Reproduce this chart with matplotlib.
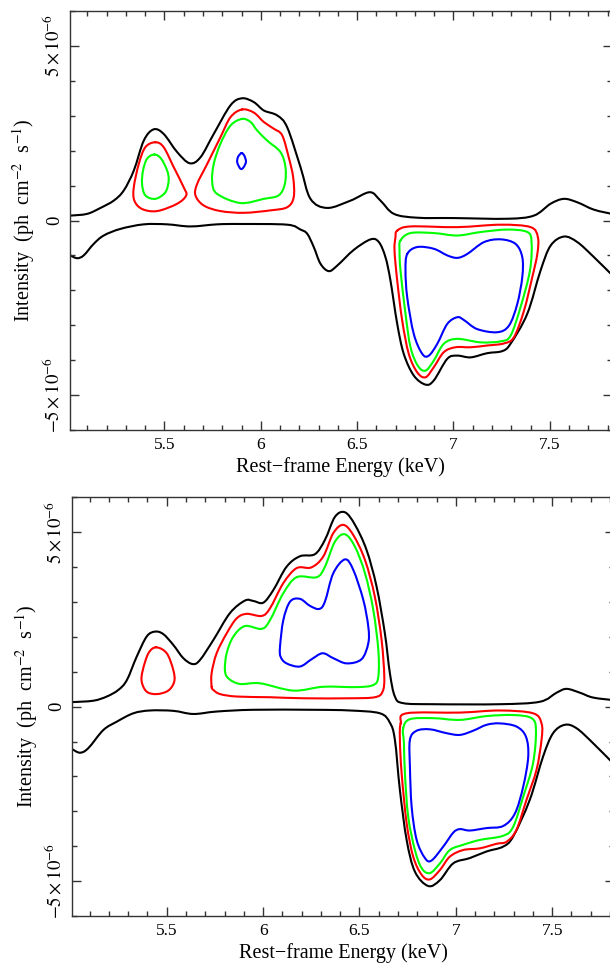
import numpy as np
import matplotlib
matplotlib.use("Agg")
import matplotlib.pyplot as plt
from matplotlib.path import Path
from matplotlib.patches import PathPatch
from matplotlib.ticker import MultipleLocator, FixedLocator, FixedFormatter

plt.rcParams['font.family'] = ['Liberation Serif', 'DejaVu Serif']
plt.rcParams['mathtext.fontset'] = 'stix'

# contour vertices: (energy keV, intensity in 1e-6 ph cm^-2 s^-1)
# ---- top panel ----
top_black_up = [(5.012, 0.14), (5.099, 0.19), (5.168, 0.36), (5.237, 0.57), (5.289, 0.86),
                (5.341, 1.43), (5.393, 2.29), (5.444, 2.61), (5.496, 2.48), (5.566, 1.96),
                (5.631, 1.64), (5.687, 1.81), (5.756, 2.48), (5.843, 3.30), (5.903, 3.50),
                (5.964, 3.39), (6.016, 3.15), (6.085, 3.01), (6.137, 2.67), (6.206, 1.53),
                (6.258, 0.62), (6.345, 0.36), (6.466, 0.57), (6.566, 0.81), (6.621, 0.57),
                (6.691, 0.19), (6.812, 0.08), (7.002, 0.07), (7.279, 0.05), (7.417, 0.14),
                (7.504, 0.48), (7.573, 0.62), (7.643, 0.52), (7.729, 0.31), (7.830, 0.18)]
top_black_lo = [(5.012, -1.00), (5.047, -1.08), (5.081, -1.00), (5.133, -0.67), (5.185, -0.43),
                (5.272, -0.24), (5.393, -0.11), (5.514, -0.11), (5.635, -0.17), (5.774, -0.11),
                (5.895, -0.10), (6.137, -0.12), (6.206, -0.26), (6.241, -0.38), (6.275, -0.76),
                (6.310, -1.24), (6.353, -1.45), (6.397, -1.29), (6.483, -0.84), (6.570, -0.54),
                (6.613, -0.62), (6.647, -1.05), (6.673, -1.72), (6.708, -2.96), (6.742, -3.82),
                (6.794, -4.44), (6.855, -4.70), (6.898, -4.58), (6.968, -3.96), (7.020, -3.87),
                (7.089, -3.92), (7.175, -3.80), (7.253, -3.74), (7.296, -3.53), (7.383, -2.67),
                (7.452, -1.43), (7.504, -0.72), (7.573, -0.46), (7.643, -0.62), (7.729, -1.05),
                (7.830, -1.60)]
top_red_a = [(5.453, 2.24), (5.401, 2.10), (5.367, 1.62), (5.341, 0.95), (5.344, 0.57),
             (5.384, 0.33), (5.462, 0.27), (5.566, 0.48), (5.613, 0.72), (5.600, 0.95),
             (5.548, 1.53), (5.496, 2.10)]
top_green_a = [(5.448, 1.89), (5.410, 1.77), (5.389, 1.43), (5.384, 1.05), (5.401, 0.72),
               (5.453, 0.62), (5.505, 0.81), (5.522, 1.15), (5.514, 1.43), (5.483, 1.77)]
top_red_b = [(5.903, 3.18), (5.843, 2.96), (5.791, 2.39), (5.722, 1.62), (5.670, 1.05),
             (5.661, 0.72), (5.704, 0.43), (5.791, 0.27), (5.912, 0.22), (6.050, 0.29),
             (6.137, 0.38), (6.171, 0.67), (6.168, 1.24), (6.145, 1.81), (6.111, 2.44),
             (6.067, 2.63), (6.016, 2.82), (5.964, 3.09)]
top_green_b = [(5.903, 2.91), (5.843, 2.72), (5.791, 2.20), (5.756, 1.62), (5.748, 1.10),
               (5.774, 0.76), (5.895, 0.50), (6.016, 0.62), (6.093, 0.72), (6.125, 1.05),
               (6.128, 1.53), (6.102, 1.96), (6.033, 2.29), (5.981, 2.58), (5.947, 2.82)]
top_blue_b = [(5.900, 1.93), (5.882, 1.82), (5.878, 1.66), (5.895, 1.48), (5.910, 1.52),
              (5.923, 1.68), (5.915, 1.85)]
top_red_c = [(6.708, -0.29), (6.777, -0.17), (7.020, -0.19), (7.245, -0.12), (7.400, -0.19),
             (7.438, -0.48), (7.435, -0.96), (7.409, -1.62), (7.366, -2.58), (7.314, -3.34),
             (7.262, -3.52), (7.175, -3.58), (7.089, -3.63), (7.011, -3.63), (6.950, -3.77),
             (6.898, -4.20), (6.855, -4.49), (6.812, -4.35), (6.768, -3.82), (6.734, -2.87),
             (6.708, -1.72), (6.694, -0.86), (6.699, -0.48)]
top_green_c = [(6.725, -0.57), (6.777, -0.36), (6.898, -0.36), (7.020, -0.43), (7.141, -0.33),
               (7.279, -0.26), (7.383, -0.33), (7.405, -0.62), (7.397, -1.43), (7.348, -2.48),
               (7.296, -3.30), (7.245, -3.46), (7.141, -3.49), (7.020, -3.39), (6.950, -3.53),
               (6.898, -4.01), (6.855, -4.30), (6.815, -4.16), (6.777, -3.63), (6.751, -2.67),
               (6.725, -1.43), (6.720, -0.86)]
top_blue_c = [(6.760, -0.96), (6.812, -0.76), (6.898, -0.81), (6.968, -1.00), (7.020, -1.07),
              (7.071, -0.96), (7.158, -0.62), (7.245, -0.54), (7.322, -0.67), (7.357, -1.05),
              (7.357, -1.62), (7.331, -2.39), (7.288, -3.01), (7.227, -3.20), (7.123, -3.11),
              (7.054, -2.85), (7.020, -2.77), (6.968, -2.96), (6.916, -3.53), (6.872, -3.87),
              (6.838, -3.82), (6.794, -3.25), (6.760, -2.20), (6.751, -1.43)]

# ---- bottom panel ----
bot_black_up = [(5.010, 0.13), (5.119, 0.17), (5.189, 0.29), (5.249, 0.48), (5.293, 0.76),
                (5.344, 1.43), (5.396, 2.01), (5.439, 2.15), (5.482, 2.08), (5.534, 1.77),
                (5.586, 1.39), (5.635, 1.22), (5.673, 1.34), (5.742, 1.91), (5.828, 2.68),
                (5.906, 3.04), (5.949, 3.03), (6.001, 2.98), (6.053, 3.34), (6.122, 4.01),
                (6.191, 4.31), (6.269, 4.37), (6.321, 4.78), (6.373, 5.44), (6.425, 5.57),
                (6.477, 5.21), (6.537, 4.49), (6.589, 3.44), (6.632, 2.10), (6.658, 0.96),
                (6.684, 0.29), (6.727, 0.10), (6.883, 0.07), (7.229, 0.07), (7.436, 0.14),
                (7.523, 0.40), (7.575, 0.51), (7.644, 0.40), (7.713, 0.26), (7.830, 0.18)]
bot_black_lo = [(5.010, -1.22), (5.050, -1.32), (5.093, -1.19), (5.171, -0.67), (5.241, -0.43),
                (5.327, -0.19), (5.413, -0.11), (5.534, -0.12), (5.638, -0.21), (5.759, -0.14),
                (5.949, -0.09), (6.260, -0.09), (6.451, -0.11), (6.606, -0.19), (6.658, -0.46),
                (6.684, -0.95), (6.710, -2.39), (6.745, -3.82), (6.788, -4.73), (6.857, -5.14),
                (6.918, -4.97), (6.987, -4.49), (7.073, -4.34), (7.160, -4.15), (7.246, -4.01),
                (7.298, -3.72), (7.384, -2.67), (7.453, -1.43), (7.505, -0.76), (7.566, -0.52),
                (7.627, -0.62), (7.713, -1.05), (7.830, -1.70)]
bot_red_a = [(5.445, 1.70), (5.405, 1.53), (5.376, 1.05), (5.370, 0.72), (5.396, 0.43),
             (5.448, 0.36), (5.508, 0.46), (5.539, 0.72), (5.534, 1.05), (5.500, 1.53)]
bot_red_b = [(5.733, 0.57), (5.733, 0.96), (5.759, 1.53), (5.811, 2.10), (5.863, 2.53),
             (5.915, 2.66), (5.993, 2.60), (6.036, 2.82), (6.105, 3.54), (6.174, 3.97),
             (6.250, 3.99), (6.312, 4.30), (6.364, 4.97), (6.416, 5.21), (6.468, 4.92),
             (6.529, 4.20), (6.580, 3.15), (6.615, 1.91), (6.629, 0.86), (6.620, 0.43),
             (6.580, 0.27), (6.451, 0.24), (6.209, 0.24), (6.036, 0.27), (5.863, 0.29),
             (5.777, 0.36), (5.742, 0.48)]
bot_green_b = [(5.802, 1.05), (5.811, 1.53), (5.846, 2.01), (5.906, 2.31), (5.993, 2.23),
               (6.036, 2.48), (6.105, 3.25), (6.174, 3.71), (6.278, 3.71), (6.321, 4.01),
               (6.373, 4.73), (6.425, 4.94), (6.477, 4.58), (6.529, 3.82), (6.572, 2.77),
               (6.598, 1.62), (6.598, 0.86), (6.572, 0.62), (6.485, 0.56), (6.312, 0.57),
               (6.157, 0.46), (5.984, 0.67), (5.880, 0.65), (5.820, 0.81)]
bot_blue_b = [(6.088, 1.72), (6.105, 2.48), (6.140, 3.01), (6.191, 3.09), (6.243, 2.89),
              (6.291, 2.80), (6.321, 3.01), (6.364, 3.82), (6.425, 4.22), (6.468, 3.92),
              (6.520, 3.06), (6.546, 2.29), (6.546, 1.82), (6.511, 1.36), (6.434, 1.24),
              (6.364, 1.39), (6.309, 1.53), (6.252, 1.36), (6.191, 1.15), (6.122, 1.24),
              (6.091, 1.43)]
bot_red_c = [(6.714, -0.48), (6.745, -0.19), (7.021, -0.17), (7.229, -0.11), (7.401, -0.19),
             (7.445, -0.48), (7.445, -0.95), (7.419, -1.81), (7.367, -2.67), (7.315, -3.53),
             (7.264, -3.87), (7.212, -3.93), (7.125, -4.06), (7.038, -4.11), (6.969, -4.30),
             (6.918, -4.68), (6.866, -4.95), (6.823, -4.82), (6.779, -4.30), (6.745, -3.34),
             (6.719, -1.91), (6.710, -0.95)]
bot_green_c = [(6.727, -0.62), (6.762, -0.36), (6.883, -0.33), (7.021, -0.38), (7.160, -0.27),
               (7.298, -0.24), (7.393, -0.33), (7.416, -0.67), (7.401, -1.62), (7.350, -2.58),
               (7.298, -3.44), (7.246, -3.70), (7.125, -3.82), (7.038, -3.96), (6.969, -4.11),
               (6.918, -4.49), (6.866, -4.77), (6.823, -4.63), (6.788, -4.11), (6.753, -3.15),
               (6.736, -1.91), (6.731, -1.05)]
bot_blue_c = [(6.762, -0.95), (6.797, -0.69), (6.866, -0.65), (6.952, -0.76), (7.021, -0.81),
              (7.090, -0.69), (7.160, -0.52), (7.229, -0.48), (7.315, -0.57), (7.364, -0.86),
              (7.376, -1.43), (7.350, -2.29), (7.307, -3.06), (7.246, -3.42), (7.160, -3.48),
              (7.073, -3.55), (7.021, -3.51), (6.987, -3.61), (6.935, -4.01), (6.874, -4.41),
              (6.840, -4.34), (6.797, -3.82), (6.771, -2.87), (6.762, -1.72)]

panels = [
    {'open': [top_black_up, top_black_lo],
     'loops': [(top_red_a, 'red'), (top_green_a, 'lime'), (top_red_b, 'red'),
               (top_green_b, 'lime'), (top_blue_b, 'blue'), (top_red_c, 'red'),
               (top_green_c, 'lime'), (top_blue_c, 'blue')],
     'rect': [70/610, 1 - 430/964, 541.5/610, 419/964]},
    {'open': [bot_black_up, bot_black_lo],
     'loops': [(bot_red_a, 'red'), (bot_red_b, 'red'), (bot_green_b, 'lime'),
               (bot_blue_b, 'blue'), (bot_red_c, 'red'), (bot_green_c, 'lime'),
               (bot_blue_c, 'blue')],
     'rect': [72.3/610, 1 - 916/964, 541.5/610, 418.7/964]},
]

x_ticks = [5.5, 6.0, 6.5, 7.0, 7.5]
x_labels = ['5.5', '6', '6.5', '7', '7.5']
y_ticks = [-5e-6, 0, 5e-6]
y_labels = [r'$-5\times10^{-6}$', '0', r'$5\times10^{-6}$']


def smooth_path(pts, closed):
    # curve through the digitised vertices, drawn as cubic Bezier segments
    p = np.array(pts, dtype=float)
    p[:, 1] *= 1e-6
    n = len(p)
    if closed:
        ext = np.vstack([p[-1], p, p[0], p[1]])
        nseg = n
    else:
        ext = np.vstack([p[0], p, p[-1]])
        nseg = n - 1
    verts = [ext[1]]
    codes = [Path.MOVETO]
    for i in range(1, nseg + 1):
        p0, p1, p2, p3 = ext[i - 1], ext[i], ext[i + 1], ext[i + 2]
        verts += [p1 + (p2 - p0) / 6, p2 - (p3 - p1) / 6, p2]
        codes += [Path.CURVE4] * 3
    return Path(verts, codes)


fig = plt.figure(figsize=(6.1, 9.64), dpi=100)

for p in panels:
    ax = fig.add_axes(p['rect'])
    for curve in p['open']:
        ax.add_patch(PathPatch(smooth_path(curve, False), fill=False, edgecolor='black',
                               lw=1.5, capstyle='round', joinstyle='round'))
    for curve, col in p['loops']:
        ax.add_patch(PathPatch(smooth_path(curve, True), fill=False, edgecolor=col,
                               lw=1.5, capstyle='round', joinstyle='round'))

    ax.set_xlim(5.01, 7.82)
    ax.set_ylim(-6e-6, 6e-6)
    ax.xaxis.set_major_locator(FixedLocator(x_ticks))
    ax.xaxis.set_major_formatter(FixedFormatter(x_labels))
    ax.xaxis.set_minor_locator(MultipleLocator(0.1))
    ax.yaxis.set_major_locator(FixedLocator(y_ticks))
    ax.yaxis.set_major_formatter(FixedFormatter(y_labels))
    ax.yaxis.set_minor_locator(MultipleLocator(1e-6))
    ax.tick_params(which='both', direction='in', top=True, right=True, width=1.0, color='#333333')
    ax.tick_params(which='major', length=6.5, pad=5)
    ax.tick_params(axis='x', which='major', labelsize=12.5)
    ax.tick_params(axis='y', which='major', labelsize=13.5)
    ax.tick_params(which='minor', length=3.5)
    for lab in ax.get_yticklabels():
        lab.set_rotation(90)
        lab.set_va('center')
    for s in ax.spines.values():
        s.set_linewidth(1.0)
        s.set_color('#333333')
    ax.set_xlabel('Rest\u2212frame Energy (keV)', fontsize=14.5, labelpad=3)
    ax.set_ylabel(r'Intensity  (ph  cm$^{-2}$  s$^{-1}$)', fontsize=14.5, labelpad=3)

fig.savefig('out.png', dpi=100)
